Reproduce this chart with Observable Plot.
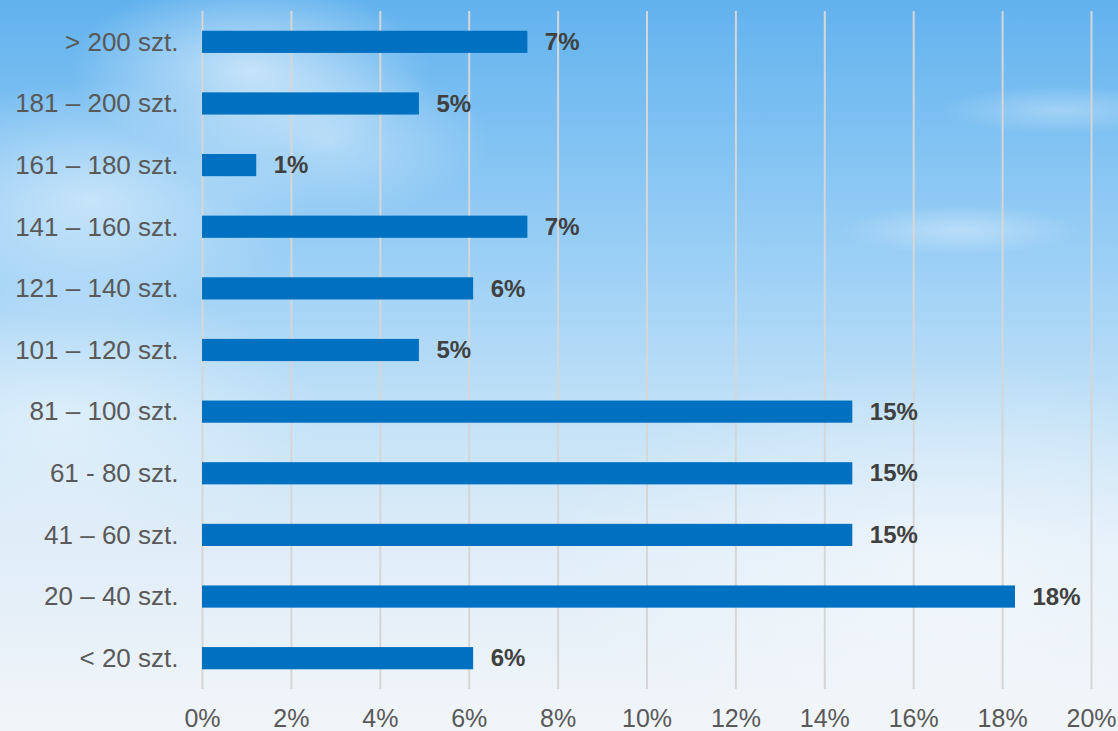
<!DOCTYPE html>
<html>
<head>
<meta charset="utf-8">
<script src="https://cdn.jsdelivr.net/npm/d3@7"></script>
<script src="https://cdn.jsdelivr.net/npm/@observablehq/plot@0.6"></script>
<style>
  html, body { margin: 0; padding: 0; }
  body { width: 1118px; height: 731px; overflow: hidden; }
  #chart {
    width: 1118px; height: 731px; position: relative;
    background:
      radial-gradient(ellipse 180px 90px at 250px 70px, rgba(255,255,255,0.6), rgba(255,255,255,0) 100%),
      radial-gradient(ellipse 220px 120px at 90px 200px, rgba(255,255,255,0.5), rgba(255,255,255,0) 100%),
      radial-gradient(ellipse 160px 80px at 330px 140px, rgba(255,255,255,0.4), rgba(255,255,255,0) 100%),
      radial-gradient(ellipse 260px 140px at 60px 420px, rgba(255,255,255,0.45), rgba(255,255,255,0) 100%),
      radial-gradient(ellipse 120px 25px at 960px 230px, rgba(255,255,255,0.35), rgba(255,255,255,0) 100%),
      radial-gradient(ellipse 120px 25px at 1060px 110px, rgba(255,255,255,0.3), rgba(255,255,255,0) 100%),
      radial-gradient(ellipse 400px 200px at 950px 560px, rgba(255,255,255,0.45), rgba(255,255,255,0) 100%),
      linear-gradient(to bottom, #62b2ee 0%, #82c3f3 20%, #a3d3f6 40%, #c4e2f7 58%, #e0edf8 75%, #f1f5f9 100%);
  }
</style>
</head>
<body>
<div id="chart"></div>
<script>
const categories = [
  "> 200 szt.", "181 – 200 szt.", "161 – 180 szt.", "141 – 160 szt.",
  "121 – 140 szt.", "101 – 120 szt.", "81 – 100 szt.", "61 - 80 szt.",
  "41 – 60 szt.", "20 – 40 szt.", "< 20 szt."
];
const values = [7.32, 4.88, 1.22, 7.32, 6.10, 4.88, 14.63, 14.63, 14.63, 18.29, 6.10];
const xTicks = [0, 2, 4, 6, 8, 10, 12, 14, 16, 18, 20];

const data = categories.map((c, i) => ({category: c, value: values[i]}));

const chart = Plot.plot({
  width: 1118,
  height: 731,
  marginLeft: 202,
  marginRight: 27,
  marginTop: 11,
  marginBottom: 42,
  style: {background: "transparent", fontFamily: "'Liberation Sans', Arial, sans-serif", color: "#595959", overflow: "visible"},
  x: {domain: [0, 20]},
  y: {domain: categories, paddingInner: 0.64, paddingOuter: 0.32, round: false},
  marks: [
    Plot.gridX(xTicks, {stroke: "#d6d6d6", strokeOpacity: 1, strokeWidth: 2}),
    Plot.barX(data, {x: "value", y: "category", fill: "#0070c0"}),
    Plot.text(data, {
      x: "value", y: "category", text: d => Math.round(d.value) + "%",
      textAnchor: "start", dx: 17, fill: "#404040", fontWeight: "bold", fontSize: 24
    }),
    Plot.axisY({tickSize: 0, tickPadding: 24, fontSize: 26, label: null, fill: "#595959"}),
    Plot.axisX(xTicks, {tickSize: 0, tickPadding: 20, fontSize: 25, label: null, fill: "#595959",
      tickFormat: d => d + "%"})
  ]
});
document.getElementById("chart").appendChild(chart);
</script>
</body>
</html>
